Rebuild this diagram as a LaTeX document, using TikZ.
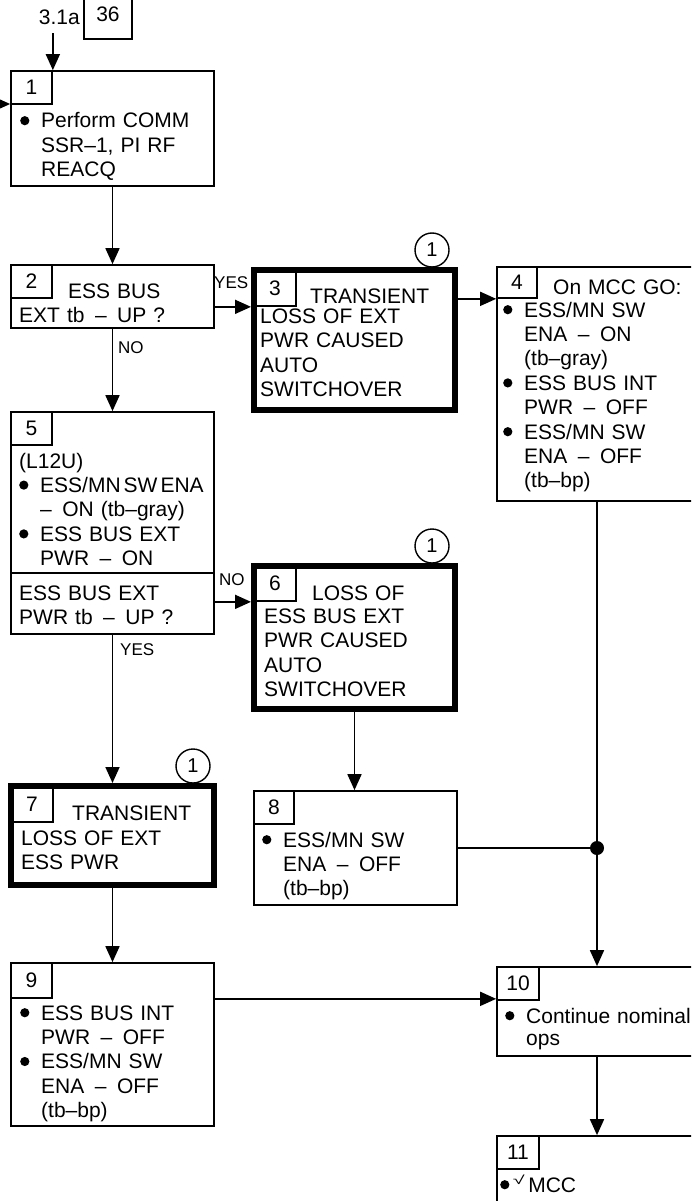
\documentclass[tikz,border=0pt]{standalone}
\usepackage{fontspec}
\setmainfont{Liberation Sans}
\usetikzlibrary{arrows.meta,calc}
\newlength{\bulw}
\setlength{\bulw}{21pt}
\newcommand{\bulsym}{\raisebox{2.7pt}{\tikz\fill (0,0) circle (4.6pt);}}
\newcommand{\bitem}[1]{{\hangindent=\bulw\hangafter=1\makebox[\bulw][l]{\bulsym}#1\par}}
\tikzset{
  flow/.style={-{Triangle[length=16pt,width=14pt]},line width=1.7pt},
  wire/.style={line width=1.7pt},
  stepbox/.style={draw,line width=1.7pt,inner sep=0pt,font=\fontsize{21}{24}\selectfont},
  heavybox/.style={stepbox,line width=6pt},
  numbox/.style={stepbox,minimum width=42pt,minimum height=33pt},
  callout/.style={draw,circle,line width=1.4pt,minimum size=34pt,inner sep=0pt,font=\fontsize{20}{24}\selectfont},
  body/.style={anchor=base west,inner sep=0pt,text width=260pt,align=left,font=\fontsize{21}{24.4}\selectfont},
  answer/.style={anchor=base west,inner sep=0pt,font=\fontsize{17}{20}\selectfont},
}
\begin{document}
\begin{tikzpicture}[x=1pt,y=-1pt]
  \useasboundingbox (0,0) rectangle (691,1201);
  \clip (0,0) rectangle (691,1201);

  % entry
  \node[stepbox,minimum width=48pt,minimum height=50pt] (b36) at (108,14) {36};
  \node[anchor=base east,inner sep=0pt,font=\fontsize{21}{24}\selectfont] (ref) at (80,25) {3.1a};
  \coordinate (in1) at (-8,104);

  % left column
  \node[stepbox,minimum width=203pt,minimum height=115pt] (b1) at (112.5,128.5) {};
  \node[numbox,minimum width=41pt] (n1) at (31.5,87.5) {1};
  \node[body] (t1) at (20,128) {\bitem{Perform COMM\break SSR–1, PI RF\break REACQ}};

  \node[stepbox,minimum width=203pt,minimum height=63pt] (b2) at (112.5,296.5) {};
  \node[numbox,minimum width=41pt] (n2) at (31.5,281.5) {2};
  \node[body] (t2a) at (68,298) {ESS BUS};
  \node[body] (t2b) at (19,322) {EXT tb \,–\, UP ?};

  \node[stepbox,minimum width=203pt,minimum height=222pt] (b5) at (112.5,523) {};
  \node[numbox,minimum width=41pt] (n5) at (31.5,428.5) {5};
  \draw[wire] (11,573) -- (214,573);
  \node[body] (t5a) at (19,468) {(L12U)\par
    \bitem{ESS/MN\hspace{3pt}SW\hspace{3pt}ENA\break –\, ON (tb–gray)}\bitem{ESS BUS EXT\break PWR \,–\, ON}};
  \node[body] (t5b) at (19,600) {ESS BUS EXT\break PWR tb \,–\, UP ?};

  \node[heavybox,minimum width=203pt,minimum height=99pt] (b7) at (112.5,835.5) {};
  \node[numbox] (n7) at (32,804) [minimum height=36pt] {7};
  \node[callout] (c7) at (193,766) {1};
  \node[body] (t7a) at (72,820) {TRANSIENT};
  \node[body] (t7b) at (21,845) {LOSS OF EXT\break ESS PWR};

  \node[stepbox,minimum width=203pt,minimum height=163pt] (b9) at (112.5,1044.5) {};
  \node[numbox,minimum width=41pt,minimum height=35pt] (n9) at (31.5,980.5) {9};
  \node[body] (t9) at (20,1020) {\bitem{ESS BUS INT\break PWR \,–\, OFF}\bitem{ESS/MN SW\break ENA \,–\, OFF\break (tb–bp)}};

  % middle column
  \node[heavybox,minimum width=201pt,minimum height=140pt] (b3) at (354.5,340) {};
  \node[numbox,minimum height=36pt] (n3) at (275,288) {3};
  \node[callout] (c3) at (432,250) {1};
  \node[body] (t3a) at (310,303) {TRANSIENT};
  \node[body,font=\fontsize{21}{24.5}\selectfont] (t3b) at (260,323) {LOSS OF EXT\break PWR CAUSED\break AUTO\break SWITCHOVER};

  \node[heavybox,minimum width=201pt,minimum height=143pt] (b6) at (354.5,637.5) {};
  \node[numbox,minimum height=35pt] (n6) at (275,583.5) {6};
  \node[callout] (c6) at (432,546) {1};
  \node[body] (t6a) at (312,600) {LOSS OF};
  \node[body,font=\fontsize{21}{24.5}\selectfont] (t6b) at (264,623) {ESS BUS EXT\break PWR CAUSED\break AUTO\break SWITCHOVER};

  \node[stepbox,minimum width=203pt,minimum height=114pt] (b8) at (355.5,848) {};
  \node[numbox,minimum width=40pt] (n8) at (274,807.5) {8};
  \node[body] (t8) at (262,847) {\bitem{ESS/MN SW\break ENA \,–\, OFF\break (tb–bp)}};

  % right column
  \node[stepbox,minimum width=200pt,minimum height=234pt] (b4) at (597,384) {};
  \node[numbox,minimum width=40pt,minimum height=31pt] (n4) at (517,282.5) {4};
  \node[body] (t4a) at (553,294) {On MCC GO:};
  \node[body] (t4b) at (503,317) {\bitem{ESS/MN SW\break ENA \,–\, ON\break (tb–gray)}\bitem{ESS BUS INT\break PWR \,–\, OFF}\bitem{ESS/MN SW\break ENA \,–\, OFF\break (tb–bp)}};

  \node[stepbox,minimum width=200pt,minimum height=89pt] (b10) at (597,1011.5) {};
  \node[numbox] (n10) at (518,983.5) {10};
  \node[body,font=\fontsize{21}{22}\selectfont] (t10) at (505,1023) {\bitem{Continue nominal\break ops}};

  \node[stepbox,minimum width=200pt,minimum height=104pt] (b11) at (597,1188) {};
  \node[numbox] (n11) at (518,1152.5) {11};
  \node[body] (t11) at (500,1192) {\bulsym\,\raisebox{8pt}{\fontsize{12}{12}\selectfont\scalebox{1.8}[1]{√}}\,MCC};

  % connectors
  \draw[flow] ($(ref.south -| n1.north east)+(0,8)$) -- (n1.north east);
  \draw[flow] (in1) -- (in1 -| b1.west);
  \draw[flow] (b1) -- (b2);
  \draw[flow] (b2.east |- n3.south) -- (b3.west |- n3.south);
  \draw[flow] (b2) -- (b5);
  \draw[flow] (b3.east |- n4.south) -- (b4.west |- n4.south);
  \draw[flow] (b5.east |- n6.south) -- (b6.west |- n6.south);
  \draw[flow] (b5) -- (b7);
  \draw[flow] (b6.south) -- (b6.south |- b8.north);
  \draw[flow] (b7) -- (b9);
  \coordinate (j) at (b4.south |- b8.east);
  \draw[wire] (b8) -- (j);
  \draw[flow] (b4) -- (b10);
  \fill (j) circle (7pt);
  \draw[flow] (b9.east |- n9.south) -- (b10.west |- n9.south);
  \draw[flow] (b10) -- (b11);

  \node[answer] (yes1) at (214,288) {YES};
  \node[answer] (no1) at (118,353) {NO};
  \node[answer] (no2) at (219,585) {NO};
  \node[answer] (yes2) at (120,655) {YES};
\end{tikzpicture}
\end{document}
